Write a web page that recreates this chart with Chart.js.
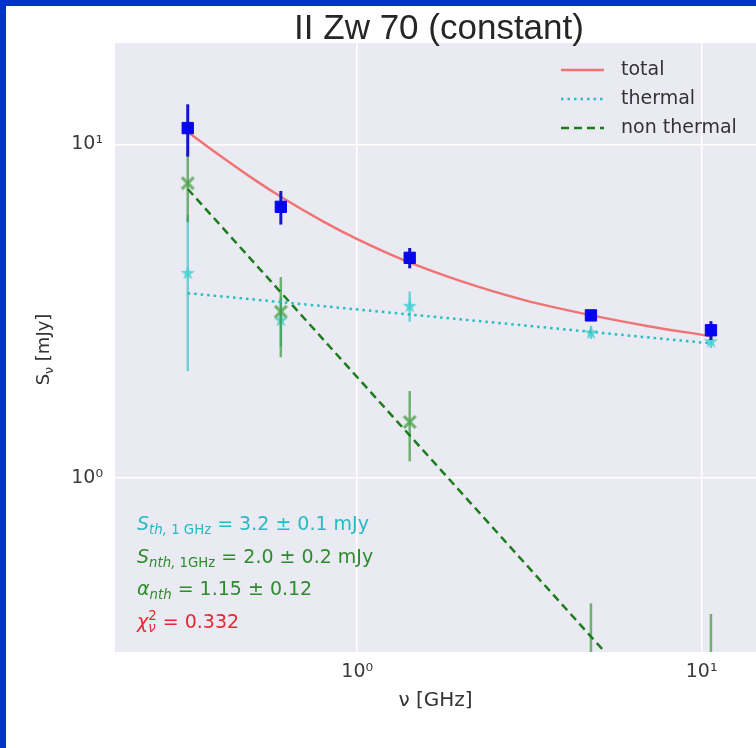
<!DOCTYPE html>
<html>
<head>
<meta charset="utf-8">
<script src="https://cdn.jsdelivr.net/npm/chart.js@4.4.1/dist/chart.umd.min.js"></script>
<style>
  html, body { margin: 0; padding: 0; background: #0033cc; overflow: hidden; }
  #frame { position: absolute; left: 6px; top: 6px; width: 750px; height: 742px; background: #fff; }
</style>
</head>
<body>
<div id="frame"><canvas id="sed" width="750" height="742"></canvas></div>
<script>
// observed frequencies, GHz
const freqs = [0.322, 0.600, 1.42, 4.77, 10.64];

// flux densities, mJy
const totalFlux = [11.2, 6.5, 4.57, 3.07, 2.77];
const totalErr = [2.0, 0.75, 0.32, 0.1, 0.18];
const thermalFlux = [4.12, 2.98, 3.28, 2.73, 2.57];
const thermalErr = [2.03, 0.5, 0.34, 0.12, 0.12];
const nonThermalFlux = [7.65, 3.15, 1.47, 0.16, 0.13];
const nonThermalErr = [1.8, 0.85, 0.35, 0.26, 0.26];

// fitted curves
const modelFreqs = [0.322, 0.4, 0.5, 0.6, 0.8, 1.0, 1.4, 2, 3, 4.8, 7, 10.64];
const totalModel = [10.9, 9.25, 7.87, 6.97, 5.86, 5.2, 4.45, 3.89, 3.43, 3.07, 2.85, 2.66];
const lineFreqs = [0.322, 10.64];
const thermalModel = [3.58, 2.53];
const nonThermalModel = [7.35, 0.133];

const xTicks = [1, 10];
const yTicks = [1, 10];
const tickLabels = { 1: '10\u2070', 10: '10\u00b9' };

const fitNotes = [
  { color: '#27b9c4', parts: [{ t: 'S', it: 1 }, { t: 'th,', it: 1, sub: 1 }, { t: ' 1 GHz', sub: 1 }, { t: ' = 3.2 \u00b1 0.1 mJy' }] },
  { color: '#2d8c2d', parts: [{ t: 'S', it: 1 }, { t: 'nth,', it: 1, sub: 1 }, { t: ' 1GHz', sub: 1 }, { t: ' = 2.0 \u00b1 0.2 mJy' }] },
  { color: '#2d8c2d', parts: [{ t: '\u03b1', it: 1 }, { t: 'nth', it: 1, sub: 1 }, { t: ' = 1.15 \u00b1 0.12' }] },
  { color: '#e8262f', parts: [{ t: '\u03c7', it: 1 }, { t: '2', sup: 1, stack: 1 }, { t: '\u03bd', it: 1, sub: 1 }, { t: ' = 0.332' }] },
];

const pts = (xs, ys) => xs.map((x, i) => ({ x: x, y: ys[i] }));

// filled marker images (matplotlib-like '*' and 'X')
function starMarker(color) {
  const c = document.createElement('canvas');
  c.width = 16; c.height = 16;
  const g = c.getContext('2d');
  g.beginPath();
  for (let k = 0; k < 10; k++) {
    const r = k % 2 ? 3 : 7.5;
    const ang = -Math.PI / 2 + k * Math.PI / 5;
    g.lineTo(8 + r * Math.cos(ang), 8.5 + r * Math.sin(ang));
  }
  g.closePath();
  g.fillStyle = color;
  g.fill();
  return c;
}

function xMarker(color) {
  const c = document.createElement('canvas');
  c.width = 16; c.height = 16;
  const g = c.getContext('2d');
  g.translate(8, 8);
  g.beginPath();
  const a = 2.2, b = 7;
  // X outline, 12 corners
  const P = [[0, -a], [b - a, -b], [b, -b + a], [a, 0], [b, b - a], [b - a, b],
             [0, a], [-b + a, b], [-b, b - a], [-a, 0], [-b, -b + a], [-b + a, -b]];
  P.forEach(p => g.lineTo(p[0], p[1]));
  g.closePath();
  g.fillStyle = color;
  g.fill();
  return c;
}

function drawRich(ctx, x, y, parts, size, color) {
  ctx.fillStyle = color;
  ctx.textAlign = 'left';
  ctx.textBaseline = 'alphabetic';
  let cx = x, held = 0;
  parts.forEach(p => {
    const s = (p.sub || p.sup) ? size * 0.7 : size;
    ctx.font = (p.it ? 'italic ' : '') + s + 'px "DejaVu Sans"';
    const dy = p.sub ? size * 0.22 : p.sup ? -size * 0.42 : 0;
    ctx.fillText(p.t, cx, y + dy);
    const w = ctx.measureText(p.t).width;
    if (p.stack) held = w;
    else { cx += Math.max(w, held); held = 0; }
  });
}

const plotBg = {
  id: 'plotBg',
  beforeDraw(chart) {
    const a = chart.chartArea, ctx = chart.ctx;
    ctx.save();
    ctx.fillStyle = '#eaeaf2';
    ctx.fillRect(a.left, a.top, a.right - a.left, a.bottom - a.top);
    ctx.restore();
  }
};

// vertical error bars, drawn right before each dataset's markers
const errorBars = {
  id: 'errorBars',
  beforeDatasetDraw(chart, args) {
    const ds = chart.data.datasets[args.index];
    if (!ds.errors) return;
    const { ctx, chartArea: a } = chart;
    const xs = chart.scales.x, ys = chart.scales.y;
    ctx.save();
    ctx.beginPath();
    ctx.rect(a.left, a.top, a.right - a.left, a.bottom - a.top);
    ctx.clip();
    ctx.strokeStyle = ds.errorColor;
    ctx.lineWidth = ds.errorWidth;
    ds.data.forEach((p, i) => {
      const px = xs.getPixelForValue(p.x);
      const lo = p.y - ds.errors[i];
      const top = ys.getPixelForValue(p.y + ds.errors[i]);
      const bot = lo > 0 ? ys.getPixelForValue(lo) : a.bottom + 10;
      ctx.beginPath();
      ctx.moveTo(px, top);
      ctx.lineTo(px, bot);
      ctx.stroke();
    });
    ctx.restore();
  }
};

const overlay = {
  id: 'overlay',
  afterDraw(chart) {
    const ctx = chart.ctx, a = chart.chartArea;
    ctx.save();

    // title, centred on the axes as in the original
    ctx.fillStyle = '#262626';
    ctx.font = '35px "Liberation Sans"';
    ctx.textAlign = 'center';
    ctx.textBaseline = 'alphabetic';
    ctx.fillText('II Zw 70 (constant)', 433, 33);

    // y axis title with subscript
    ctx.save();
    ctx.translate(43, (a.top + a.bottom) / 2 + 2);
    ctx.rotate(-Math.PI / 2);
    ctx.font = '18px "DejaVu Sans"';
    const w1 = ctx.measureText('S').width;
    ctx.font = '12.6px "DejaVu Sans"';
    const w2 = ctx.measureText('\u03bd').width;
    ctx.font = '18px "DejaVu Sans"';
    const w3 = ctx.measureText(' [mJy]').width;
    drawRich(ctx, -(w1 + w2 + w3) / 2, 0, [{ t: 'S' }, { t: '\u03bd', sub: 1 }, { t: ' [mJy]' }], 18, '#333');
    ctx.restore();

    // legend
    const items = chart.data.datasets.filter(d => d.legendRow !== undefined);
    items.sort((p, q) => p.legendRow - q.legendRow);
    items.forEach((d, i) => {
      const y = 64 + i * 29;
      ctx.strokeStyle = d.borderColor;
      ctx.lineWidth = d.borderWidth;
      ctx.setLineDash(d.borderDash || []);
      ctx.beginPath();
      ctx.moveTo(555, y);
      ctx.lineTo(598, y);
      ctx.stroke();
      ctx.setLineDash([]);
      ctx.fillStyle = '#333';
      ctx.font = '19px "DejaVu Sans"';
      ctx.textAlign = 'left';
      ctx.textBaseline = 'middle';
      ctx.fillText(d.label, 615, y);
    });

    // fit results
    fitNotes.forEach((n, i) => drawRich(ctx, 131, 524 + i * 32.5, n.parts, 19, n.color));
    ctx.restore();
  }
};

const noPadX = s => { s.height = 96; s.paddingLeft = 0; s.paddingRight = 0; };
const noPadY = s => { s.width = 109; s.paddingTop = 0; s.paddingBottom = 0; };

new Chart(document.getElementById('sed'), {
  type: 'scatter',
  data: {
    datasets: [
      {
        label: 'data total',
        data: pts(freqs, totalFlux),
        errors: totalErr,
        errorColor: '#1414c8',
        errorWidth: 3,
        pointStyle: 'rect',
        pointRadius: 8,
        backgroundColor: '#0505ee',
        borderColor: '#0505ee',
        borderWidth: 1,
        order: 0
      },
      {
        label: 'total',
        legendRow: 0,
        data: pts(modelFreqs, totalModel),
        showLine: true,
        cubicInterpolationMode: 'monotone',
        pointRadius: 0,
        borderColor: '#f07474',
        borderWidth: 2.5,
        order: 1
      },
      {
        label: 'thermal',
        legendRow: 1,
        data: pts(lineFreqs, thermalModel),
        showLine: true,
        pointRadius: 0,
        borderColor: '#22c0c0',
        borderWidth: 2.5,
        borderDash: [2.5, 4],
        order: 2
      },
      {
        label: 'non thermal',
        legendRow: 2,
        data: pts(lineFreqs, nonThermalModel),
        showLine: true,
        pointRadius: 0,
        borderColor: '#1c7d1c',
        borderWidth: 2.5,
        borderDash: [8, 5],
        order: 2
      },
      {
        label: 'data non thermal',
        data: pts(freqs, nonThermalFlux),
        errors: nonThermalErr,
        errorColor: 'rgba(60,150,60,0.7)',
        errorWidth: 2.5,
        pointStyle: xMarker('rgba(70,160,70,0.75)'),
        pointRadius: 6,
        order: 3
      },
      {
        label: 'data thermal',
        data: pts(freqs, thermalFlux),
        errors: thermalErr,
        errorColor: 'rgba(64,200,200,0.75)',
        errorWidth: 2.5,
        pointStyle: starMarker('rgba(64,208,208,0.8)'),
        pointRadius: 6,
        order: 4
      }
    ]
  },
  options: {
    responsive: false,
    animation: false,
    layout: { autoPadding: false, padding: { top: 37, right: 0, left: 0, bottom: 0 } },
    plugins: {
      legend: { display: false },
      title: { display: false },
      tooltip: { enabled: false }
    },
    scales: {
      x: {
        type: 'logarithmic',
        min: 0.198,
        max: 14.38,
        afterBuildTicks: s => { s.ticks = xTicks.map(v => ({ value: v })); },
        afterFit: noPadX,
        border: { display: false },
        grid: { color: '#ffffff', lineWidth: 1.5, drawTicks: false },
        ticks: {
          padding: 9,
          color: '#3b3b3b',
          font: { family: '"DejaVu Sans"', size: 19 },
          callback: v => tickLabels[v] || ''
        },
        title: {
          display: true,
          text: '\u03bd [GHz]',
          color: '#333',
          font: { family: '"DejaVu Sans"', size: 20 },
          padding: { top: 0, bottom: 35 }
        }
      },
      y: {
        type: 'logarithmic',
        min: 0.3046,
        max: 20.16,
        afterBuildTicks: s => { s.ticks = yTicks.map(v => ({ value: v })); },
        afterFit: noPadY,
        border: { display: false },
        grid: { color: '#ffffff', lineWidth: 1.5, drawTicks: false },
        ticks: {
          padding: 12,
          color: '#3b3b3b',
          font: { family: '"DejaVu Sans"', size: 19 },
          callback: v => tickLabels[v] || ''
        }
      }
    }
  },
  plugins: [plotBg, errorBars, overlay]
});
</script>
</body>
</html>
